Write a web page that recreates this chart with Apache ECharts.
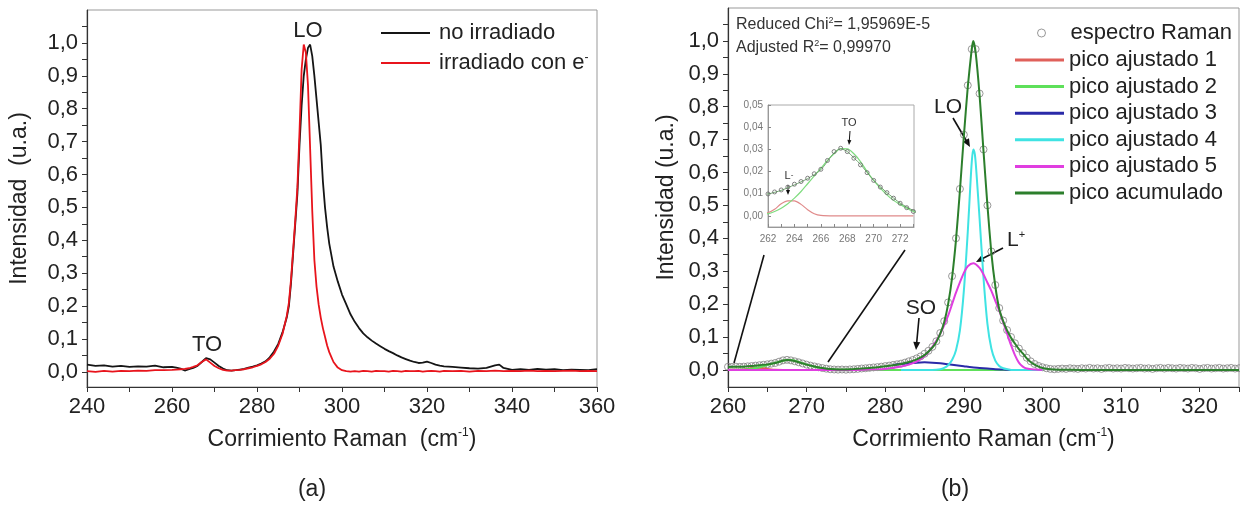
<!DOCTYPE html>
<html lang="es">
<head>
<meta charset="UTF-8">
<title>Espectros Raman</title>
<script src="https://cdn.jsdelivr.net/npm/echarts@6/dist/echarts.min.js"></script>
<style>
  html, body { margin: 0; padding: 0; background: #fff; }
  #main { width: 1240px; height: 509px; }
</style>
</head>
<body>
<div id="main"></div>
<script>
// ---------- (a) espectros: no irradiado / irradiado ----------
var aX = [240,242,244,246,248,250,252,254,256,258,
  260,261,262,263,264,265,266,267,268,269,270,271,272,273,274,275,276,277,278,279,280,281,282,283,284,285,286,287,
  287.5,288,288.5,289,289.5,290,290.5,291,291.5,292,292.5,293,293.5,294,294.5,295,295.5,296,296.5,297,297.5,298,
  299,300,301,302,303,304,305,306,307,308,309,310,311,312,313,314,315,316,317,318,319,320,321,322,323,324,
  326,328,330,332,334,336,337,338,340,342,344,346,348,350,352,354,356,358,360];
var noIrradiado = [0.022,0.018,0.02,0.016,0.018,0.015,0.017,0.016,0.019,0.014,
  0.015,0.013,0.01,0.004,0.008,0.012,0.018,0.03,0.042,0.038,0.028,0.018,0.01,0.005,0.004,0.005,0.007,0.009,0.013,0.016,0.02,0.025,0.032,0.044,0.062,0.085,0.12,0.165,
  0.2,0.27,0.36,0.45,0.54,0.69,0.81,0.9,0.95,0.985,0.995,0.96,0.9,0.83,0.76,0.69,0.58,0.5,0.44,0.39,0.355,0.32,
  0.275,0.235,0.205,0.175,0.152,0.133,0.117,0.105,0.095,0.086,0.078,0.07,0.063,0.057,0.05,0.044,0.039,0.034,0.03,0.027,0.028,0.031,0.027,0.022,0.019,0.017,
  0.015,0.013,0.011,0.01,0.012,0.02,0.022,0.012,0.006,0.008,0.006,0.009,0.007,0.008,0.005,0.007,0.006,0.005,0.008];
var irradiado = [0.002,0.0,0.003,0.001,0.003,0.002,0.004,0.003,0.005,0.005,
  0.006,0.007,0.008,0.009,0.011,0.015,0.02,0.03,0.038,0.028,0.018,0.011,0.006,0.004,0.004,0.005,0.006,0.008,0.011,0.014,0.018,0.023,0.03,0.04,0.055,0.08,0.115,0.17,
  0.21,0.28,0.37,0.46,0.56,0.73,0.92,0.995,0.97,0.87,0.68,0.49,0.34,0.26,0.205,0.165,0.133,0.107,0.08,0.06,0.045,0.03,
  0.013,0.005,0.002,0.001,0.002,0.001,0.003,0.002,0.001,0.003,0.002,0.002,0.001,0.003,0.002,0.001,0.003,0.002,0.002,0.003,0.001,0.002,0.003,0.002,0.001,0.003,
  0.002,0.003,0.001,0.003,0.002,0.004,0.003,0.002,0.003,0.002,0.004,0.002,0.003,0.002,0.003,0.004,0.002,0.003,0.002];

// ---------- (b) espectro Raman y picos ajustados ----------
var espX = [260,260.5,261,261.5,262,262.5,263,263.5,264,264.5,265,265.5,266,266.5,267,267.5,268,268.5,269,269.5,270,270.5,271,271.5,272,272.5,273,
  273.5,274,274.5,275,275.5,276,276.5,277,277.5,278,278.5,279,279.5,280,280.5,281,281.5,282,282.5,283,283.5,284,284.5,285,
  285.5,286,286.5,287,287.5,288,288.5,289,289.5,290,290.5,291,291.5,292,292.5,293,293.5,294,294.5,295,295.5,296,296.5,297,297.5,298,298.5,299,299.5,300,
  300.5,301,301.5,302,302.5,303,303.5,304,304.5,305,305.5,306,306.5,307,307.5,308,308.5,309,309.5,310,310.5,311,311.5,312,312.5,
  313,313.5,314,314.5,315,315.5,316,316.5,317,317.5,318,318.5,319,319.5,320,320.5,321,321.5,322,322.5,323,323.5,324,324.5,325];
var espY = [0.0095,0.009,0.0098,0.0094,0.0099,0.0108,0.0117,0.013,0.0143,0.0155,0.017,0.019,0.021,0.025,0.029,0.0305,0.029,0.026,0.023,0.0195,0.016,0.013,0.0105,0.008,0.0057,0.0037,0.002,
  0.0012,0.0008,0.0012,0.0006,0.0014,0.002,0.003,0.0042,0.005,0.0062,0.0075,0.0085,0.0098,0.0115,0.013,0.015,0.017,0.019,0.022,0.026,0.03,0.035,0.041,0.049,
  0.058,0.07,0.087,0.112,0.148,0.205,0.285,0.4,0.55,0.715,0.865,0.975,0.975,0.84,0.67,0.5,0.36,0.258,0.188,0.15,0.121,0.1,0.081,0.065,0.051,0.037,0.026,0.018,0.012,0.008,
  0.005,0.003,0.002,0.003,0.004,0.003,0.005,0.004,0.003,0.005,0.004,0.006,0.004,0.005,0.003,0.005,0.006,0.004,0.005,0.004,0.006,0.005,0.004,0.005,0.006,
  0.004,0.005,0.003,0.005,0.006,0.004,0.006,0.005,0.004,0.006,0.005,0.004,0.006,0.005,0.003,0.005,0.006,0.004,0.005,0.006,0.004,0.005,0.006,0.004,0.005];

var pico1X = [260,261,262,262.5,263,263.5,264,264.5,265,265.5,266,267,270,273];
var pico1Y = [0,0.0005,0.0015,0.003,0.0055,0.0068,0.0068,0.0052,0.0028,0.001,0.0002,0,0,0];

var pico2X = [260,261,262,262.5,263,263.5,264,264.5,265,265.5,266,266.5,267,267.5,268,268.5,269,269.5,270,270.5,271,271.5,272,272.5,273,274,275,276,278,280,285,290,295,300];
var pico2Y = [0,0.0003,0.001,0.002,0.0035,0.0055,0.008,0.011,0.0145,0.018,0.0215,0.025,0.028,0.0303,0.0302,0.028,0.0245,0.02,0.016,0.0125,0.0095,0.007,0.0052,0.0035,0.002,0.0008,0.0003,0.0001,0,0,0,0,0,0];

var pico3X = [281,282,283,284,285,286,287,288,289,290,291,292,293,294,295,296];
var pico3Y = [0.015,0.018,0.02,0.022,0.023,0.022,0.02,0.017,0.014,0.011,0.008,0.006,0.004,0.002,0.001,0];

var pico4X = [282,286,287,287.5,288,288.5,289,289.5,290,290.5,290.8,291,291.2,291.4,291.6,292,292.5,293,293.5,294,294.5,295,295.5,296,300];
var pico4Y = [0,0,0.002,0.006,0.014,0.03,0.06,0.12,0.24,0.42,0.55,0.63,0.67,0.655,0.6,0.46,0.28,0.14,0.065,0.028,0.012,0.005,0.002,0,0];

var pico5X = [260,270,276,278,280,281,282,283,284,285,286,287,288,289,290,290.5,291.2,292,292.5,293,293.5,294,294.5,295,295.5,296,296.5,297,297.5,298,299,300];
var pico5Y = [0,0,0,0.001,0.003,0.006,0.01,0.016,0.025,0.042,0.07,0.11,0.165,0.235,0.295,0.315,0.324,0.31,0.29,0.265,0.24,0.21,0.18,0.145,0.11,0.075,0.045,0.022,0.01,0.004,0.001,0];

var acumX = [260,261,262,263,264,265,266,267,267.5,
  268,269,270,271,272,273,274,275,276,277,278,279,280,281,282,283,284,285,286,
  286.5,287,287.5,288,288.5,289,289.5,290,290.5,291,291.2,291.5,292,292.5,293,293.5,294,294.5,295,295.5,296,296.5,297,297.5,298,298.5,299,299.5,300,
  301,302,305,310,315,320,325];
var acumY = [0.009,0.0095,0.0099,0.0115,0.014,0.0168,0.0208,0.0285,0.0303,
  0.029,0.0232,0.016,0.0105,0.0058,0.0025,0.0015,0.0015,0.0025,0.004,0.006,0.008,0.011,0.014,0.018,0.024,0.032,0.045,0.068,
  0.085,0.11,0.145,0.2,0.28,0.395,0.545,0.71,0.86,0.975,1.0,0.965,0.835,0.665,0.5,0.355,0.255,0.185,0.148,0.12,0.098,0.08,0.063,0.05,0.035,0.024,0.016,0.01,0.006,
  0.002,0.0005,0,0,0,0,0];

// ---------- ticks ----------
var aXLabels = [240,260,280,300,320,340,360];
var aXTicks = [240,250,260,270,280,290,300,310,320,330,340,350,360];
var yLabels = [0,0.1,0.2,0.3,0.4,0.5,0.6,0.7,0.8,0.9,1.0];
var yTicks = [0,0.05,0.1,0.15,0.2,0.25,0.3,0.35,0.4,0.45,0.5,0.55,0.6,0.65,0.7,0.75,0.8,0.85,0.9,0.95,1.0,1.05];
var bXLabels = [260,270,280,290,300,310,320];
var bXTicks = [260,265,270,275,280,285,290,295,300,305,310,315,320,325];
var inXLabels = [262,264,266,268,270,272];
var inXTicks = [262,263,264,265,266,267,268,269,270,271,272,273];
var inYLabels = [0,0.01,0.02,0.03,0.04,0.05];

var FONT = '"Liberation Sans", Arial, Helvetica, sans-serif';

function pairs(xs, ys) {
    return xs.map(function (x, i) { return [x, ys[i]]; });
}
function coma(d) {
    return function (v) { return v.toFixed(d).replace('.', ','); };
}

// eje principal (a) y (b)
function ejeX(grid, min, max, labels, ticks) {
    return {
        type: 'value', gridIndex: grid, min: min, max: max,
        axisLine: { onZero: false, lineStyle: { color: '#333', width: 1.2 } },
        axisTick: { customValues: ticks, length: 5, lineStyle: { color: '#333' } },
        axisLabel: { customValues: labels, fontSize: 22, color: '#222', margin: 9 },
        splitLine: { show: false },
        name: '{n|Corrimiento Raman' + (grid === 0 ? '  ' : ' ') + '(cm}{s|-1}{n|)}',
        nameLocation: 'middle', nameGap: 40,
        nameTextStyle: {
            rich: {
                n: { fontSize: 23, color: '#222', lineHeight: 26, fontFamily: FONT },
                s: { fontSize: 12, color: '#222', lineHeight: 13, verticalAlign: 'top', fontFamily: FONT }
            }
        }
    };
}
function ejeY(grid, min, nombre, gap) {
    return {
        type: 'value', gridIndex: grid, min: min, max: 1.1,
        axisLine: { onZero: false, lineStyle: { color: '#333', width: 1.2 } },
        axisTick: { customValues: yTicks, length: 5, lineStyle: { color: '#333' } },
        axisLabel: { customValues: yLabels, fontSize: 22, color: '#222', margin: 9, formatter: coma(1) },
        splitLine: { show: false },
        name: nombre, nameLocation: 'middle', nameGap: gap,
        nameTextStyle: { fontSize: 23, color: '#222' }
    };
}

function flecha(x1, y1, x2, y2, h, w, lw) {
    var a = Math.atan2(y2 - y1, x2 - x1);
    var c = Math.cos(a), s = Math.sin(a);
    return [
        { type: 'line', shape: { x1: x1, y1: y1, x2: x2 - c * h * 0.8, y2: y2 - s * h * 0.8 },
          style: { stroke: '#111', lineWidth: lw } },
        { type: 'polygon', shape: { points: [[x2, y2],
            [x2 - h * c + w * s, y2 - h * s - w * c],
            [x2 - h * c - w * s, y2 - h * s + w * c]] }, style: { fill: '#111' } }
    ];
}
function texto(x, y, t, size, extra) {
    return {
        type: 'text', x: x, y: y,
        style: Object.assign({ text: t, fontSize: size, fontFamily: FONT, fill: '#222',
            align: 'center', verticalAlign: 'middle' }, extra || {})
    };
}

var chart = echarts.init(document.getElementById('main'));

var supRich = { n: { fontSize: 16, lineHeight: 18 }, s: { fontSize: 9, lineHeight: 9, verticalAlign: 'top' } };
var graficos = [
    texto(308, 31, 'LO', 22),
    texto(207, 345, 'TO', 22),
    texto(948, 107, 'LO', 21),
    texto(921, 308, 'SO', 21),
    texto(1016, 240, '{n|L}{s|+}', 21, { rich: { n: { fontSize: 21 }, s: { fontSize: 11, verticalAlign: 'top', lineHeight: 11 } } }),
    texto(849, 123, 'TO', 11, { fill: '#333' }),
    texto(789, 176, '{n|L}{s|-}', 11, { fill: '#333', rich: { n: { fontSize: 11 }, s: { fontSize: 8, verticalAlign: 'top', lineHeight: 8 } } }),
    texto(736, 25, '{n|Reduced Chi}{s|2}{n|= 1,95969E-5}', 16, { align: 'left', fill: '#333', rich: supRich }),
    texto(736, 48, '{n|Adjusted R}{s|2}{n|= 0,99970}', 16, { align: 'left', fill: '#333', rich: supRich }),
    texto(312, 490, '(a)', 23),
    texto(955, 490, '(b)', 23),
    { type: 'line', shape: { x1: 764, y1: 255, x2: 734, y2: 363 }, style: { stroke: '#111', lineWidth: 1.6 } },
    { type: 'line', shape: { x1: 905, y1: 250, x2: 828, y2: 362 }, style: { stroke: '#111', lineWidth: 1.6 } }
].concat(
    flecha(953, 118, 970, 147, 8, 3.5, 1.6),
    flecha(1003, 248, 976, 262, 8, 3.5, 1.6),
    flecha(919, 318, 916, 350, 8, 3.5, 1.6),
    flecha(850, 131, 849, 145, 5, 2, 1),
    flecha(788, 185, 788, 195, 5, 2, 1)
);

var option = {
    animation: false,
    backgroundColor: '#fff',
    textStyle: { fontFamily: FONT },
    grid: [
        { left: 87, top: 10, width: 510, height: 377, show: true, borderColor: '#999', borderWidth: 1 },
        { left: 728, top: 8, width: 511, height: 379, show: true, borderColor: '#999', borderWidth: 1 },
        { left: 768, top: 105, width: 146, height: 122, show: true, backgroundColor: '#fff', borderColor: '#aaa', borderWidth: 1 }
    ],
    xAxis: [
        ejeX(0, 240, 360, aXLabels, aXTicks),
        ejeX(1, 260, 325, bXLabels, bXTicks),
        {
            type: 'value', gridIndex: 2, min: 262, max: 273.05,
            axisLine: { onZero: false, lineStyle: { color: '#999', width: 1 } },
            axisTick: { customValues: inXTicks, inside: true, length: 3, lineStyle: { color: '#888' } },
            axisLabel: { customValues: inXLabels, fontSize: 10, color: '#777', margin: 7 },
            splitLine: { show: false }
        }
    ],
    yAxis: [
        ejeY(0, -0.046, 'Intensidad  (u.a.)', 56),
        ejeY(1, -0.052, 'Intensidad (u.a.)', 50),
        {
            type: 'value', gridIndex: 2, min: -0.005, max: 0.05,
            axisLine: { onZero: false, lineStyle: { color: '#999', width: 1 } },
            axisTick: { customValues: inYLabels, inside: true, length: 3, lineStyle: { color: '#888' } },
            axisLabel: { customValues: inYLabels, fontSize: 10, color: '#777', margin: 5, formatter: coma(2) },
            splitLine: { show: false }
        }
    ],
    legend: [
        {
            data: ['no irradiado', 'irradiado con e⁻'],
            orient: 'vertical', left: 381, top: 22, padding: 0, icon: 'rect',
            itemWidth: 49, itemHeight: 2, itemGap: 8,
            formatter: function (n) { return n === 'irradiado con e⁻' ? '{t|irradiado con e}{s|-}' : '{t|' + n + '}'; },
            textStyle: { rich: {
                t: { fontSize: 22, lineHeight: 22, color: '#222', padding: [0, 0, 0, 4] },
                s: { fontSize: 12, lineHeight: 12, color: '#222', verticalAlign: 'top' } } }
        },
        {
            data: [{ name: 'espectro Raman', icon: 'circle', itemStyle: { color: 'transparent', borderColor: '#808080', borderWidth: 1 } }],
            left: 1037, top: 22, padding: 0, itemWidth: 8, itemHeight: 8,
            textStyle: { fontSize: 22, lineHeight: 22, color: '#222', padding: [0, 0, 0, 20] }
        },
        {
            data: ['pico ajustado 1', 'pico ajustado 2', 'pico ajustado 3', 'pico ajustado 4', 'pico ajustado 5', 'pico acumulado'],
            orient: 'vertical', left: 1015, top: 49, padding: 0, icon: 'rect',
            itemWidth: 49, itemHeight: 3, itemGap: 4.6,
            textStyle: { fontSize: 22, lineHeight: 22, color: '#222' }
        }
    ],
    series: [
        { name: 'no irradiado', type: 'line', xAxisIndex: 0, yAxisIndex: 0, data: pairs(aX, noIrradiado),
          symbol: 'none', lineStyle: { color: '#151515', width: 1.8 }, itemStyle: { color: '#151515' }, z: 3 },
        { name: 'irradiado con e⁻', type: 'line', xAxisIndex: 0, yAxisIndex: 0, data: pairs(aX, irradiado),
          symbol: 'none', lineStyle: { color: '#e8141c', width: 1.8 }, itemStyle: { color: '#e8141c' }, z: 4 },

        { name: 'espectro Raman', type: 'scatter', xAxisIndex: 1, yAxisIndex: 1, data: pairs(espX, espY),
          symbol: 'circle', symbolSize: 7, itemStyle: { color: 'transparent', borderColor: '#808080', borderWidth: 1 }, z: 2 },
        { name: 'pico ajustado 1', type: 'line', xAxisIndex: 1, yAxisIndex: 1, data: pairs(pico1X, pico1Y), smooth: 0.3,
          symbol: 'none', lineStyle: { color: '#e0605a', width: 2 }, itemStyle: { color: '#e0605a' }, z: 3 },
        { name: 'pico ajustado 2', type: 'line', xAxisIndex: 1, yAxisIndex: 1, data: pairs(pico2X, pico2Y), smooth: 0.3,
          symbol: 'none', lineStyle: { color: '#5ee05a', width: 2 }, itemStyle: { color: '#5ee05a' }, z: 3 },
        { name: 'pico ajustado 3', type: 'line', xAxisIndex: 1, yAxisIndex: 1, data: pairs(pico3X, pico3Y), smooth: 0.3,
          symbol: 'none', lineStyle: { color: '#2a2aa8', width: 2 }, itemStyle: { color: '#2a2aa8' }, z: 3 },
        { name: 'pico ajustado 4', type: 'line', xAxisIndex: 1, yAxisIndex: 1, data: pairs(pico4X, pico4Y), smooth: 0.3,
          symbol: 'none', lineStyle: { color: '#3fe3e3', width: 2 }, itemStyle: { color: '#3fe3e3' }, z: 3 },
        { name: 'pico ajustado 5', type: 'line', xAxisIndex: 1, yAxisIndex: 1, data: pairs(pico5X, pico5Y), smooth: 0.3,
          symbol: 'none', lineStyle: { color: '#e03ee0', width: 2 }, itemStyle: { color: '#e03ee0' }, z: 3 },
        { name: 'pico acumulado', type: 'line', xAxisIndex: 1, yAxisIndex: 1, data: pairs(acumX, acumY), smooth: 0.2,
          symbol: 'none', lineStyle: { color: '#2c7f2c', width: 2 }, itemStyle: { color: '#2c7f2c' }, z: 4 },

        // recuadro ampliado 262-273
        { name: 'inset pico 1', type: 'line', xAxisIndex: 2, yAxisIndex: 2, data: pairs(pico1X, pico1Y), smooth: 0.3,
          symbol: 'none', lineStyle: { color: '#e08a8a', width: 1.2 }, z: 6 },
        { name: 'inset pico 2', type: 'line', xAxisIndex: 2, yAxisIndex: 2, data: pairs(pico2X, pico2Y), smooth: 0.3,
          symbol: 'none', lineStyle: { color: '#7edc7e', width: 1.2 }, z: 6 },
        { name: 'inset acumulado', type: 'line', xAxisIndex: 2, yAxisIndex: 2, data: pairs(acumX, acumY), smooth: 0.2,
          symbol: 'none', lineStyle: { color: '#6fa86f', width: 1 }, z: 6 },
        { name: 'inset espectro', type: 'scatter', xAxisIndex: 2, yAxisIndex: 2, data: pairs(espX, espY), clip: true,
          symbol: 'circle', symbolSize: 4, itemStyle: { color: 'transparent', borderColor: '#666', borderWidth: 1 }, z: 7 }
    ],
    graphic: graficos
};

chart.setOption(option);
</script>
</body>
</html>
